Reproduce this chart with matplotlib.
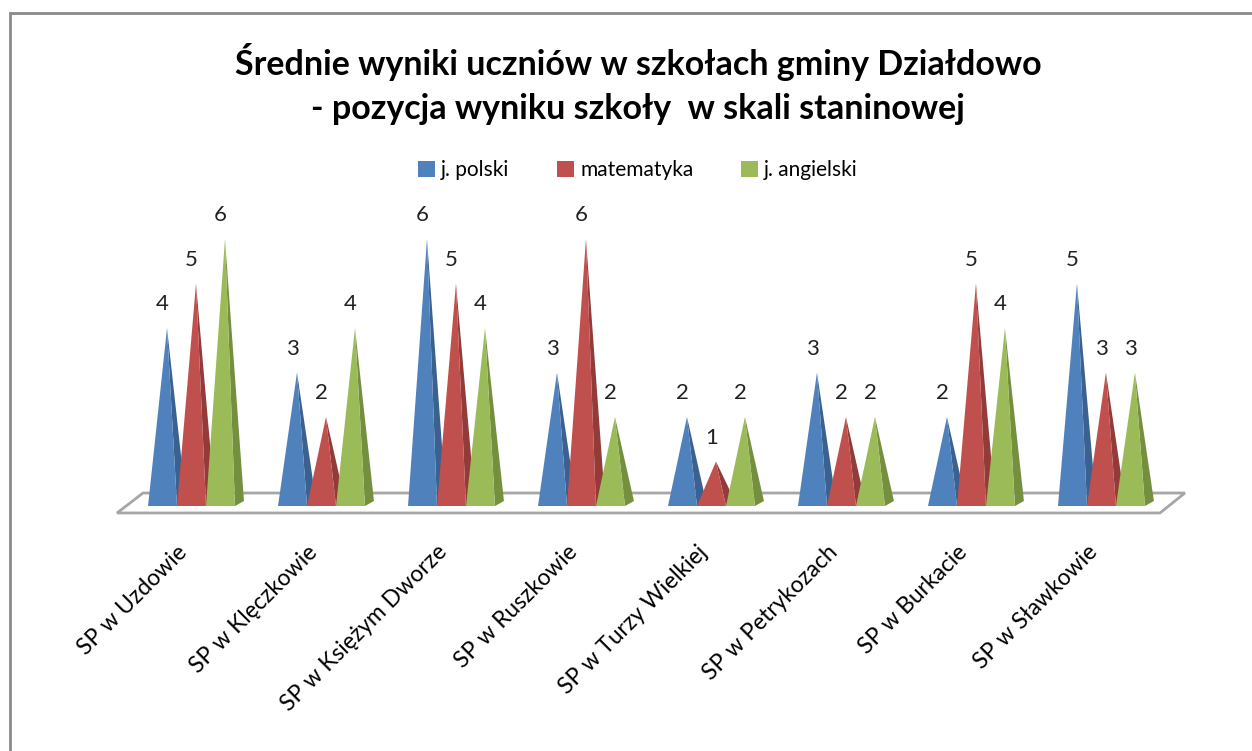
import matplotlib
matplotlib.use('Agg')
import matplotlib.pyplot as plt
from matplotlib.patches import Polygon, Rectangle, Patch

plt.rcParams['font.family'] = ['Lato', 'DejaVu Sans']

# dane z wykresu
schools = ['SP w Uzdowie', 'SP w Klęczkowie', 'SP w Księżym Dworze', 'SP w Ruszkowie',
           'SP w Turzy Wielkiej', 'SP w Petrykozach', 'SP w Burkacie', 'SP w Sławkowie']
polski = [4, 3, 6, 3, 2, 3, 2, 5]
matematyka = [5, 2, 5, 6, 1, 2, 5, 3]
angielski = [6, 4, 4, 2, 2, 2, 4, 3]
series_names = ['j. polski', 'matematyka', 'j. angielski']
front_colors = ['#4F81BD', '#C0504D', '#9BBB59']
side_colors = ['#3A6190', '#923B39', '#74903F']

title = 'Średnie wyniki uczniów w szkołach gminy Działdowo\n- pozycja wyniku szkoły  w skali staninowej'

W, H = 1252, 751
fig = plt.figure(figsize=(W / 100, H / 100), dpi=100)

# ramka wykresu
fig.add_artist(Rectangle((10 / W, -0.1), 1.2, 1.1 - 13 / H, transform=fig.transFigure,
                         fill=False, edgecolor='#8A8A8A', linewidth=2))

ax = fig.add_axes([100 / W, (H - 540) / H, 1100 / W, 340 / H])
ax.set_xlim(-0.704, 7.758)
ax.set_ylim(-0.764, 6.876)
for s in ax.spines.values():
    s.set_visible(False)
ax.set_yticks([])

n = len(schools)
# podloga 3D
floor = [(-0.573, -0.157), (n - 1 + 0.45, -0.157), (n - 1 + 0.642, 0.292), (-0.373, 0.292)]
ax.add_patch(Polygon(floor, closed=True, facecolor='white', edgecolor='#A6A6A6',
                     linewidth=2, zorder=1))

w = 0.223   # szerokosc podstawy
dx = 0.069  # glebokosc w poziomie
dy = 0.112  # glebokosc w pionie

series = [polski, matematyka, angielski]
for i in range(n):
    for k, vals in enumerate(series):
        left = i - 1.5 * w + k * w
        v = vals[i]
        apex = (left + w / 2 + dx / 2, v)
        front = [(left, 0), (left + w, 0), apex]
        side = [(left + w, 0), (left + w + dx, dy), apex]
        ax.add_patch(Polygon(side, closed=True, facecolor=side_colors[k],
                             edgecolor='none', zorder=2 + i * 3 + k))
        ax.add_patch(Polygon(front, closed=True, facecolor=front_colors[k],
                             edgecolor='none', zorder=2 + i * 3 + k))
        ax.annotate(str(v), (left + w / 2, v), xytext=(0, 17), textcoords='offset points',
                    ha='center', va='center', fontsize=16, color='#222222')

ax.set_xticks(range(n))
ax.set_xticklabels(schools, rotation=45, ha='right', va='top', fontsize=16.5)
ax.tick_params(axis='x', length=0, pad=1)

fig.text(638 / W, 1 - 84 / H, title, ha='center', va='center', fontsize=24.5,
         fontweight='bold', linespacing=1.45)

handles = [Patch(facecolor=c, edgecolor='none') for c in front_colors]
fig.legend(handles, series_names, loc='center', bbox_to_anchor=(638 / W, 1 - 170 / H),
           ncol=3, frameon=False, fontsize=15, handlelength=0.8, handleheight=0.8,
           handletextpad=0.3, columnspacing=2.3)

fig.savefig('out.png', dpi=100)
